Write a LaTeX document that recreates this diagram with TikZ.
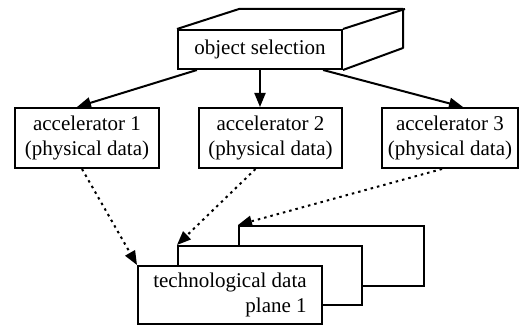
\documentclass[tikz,border=0pt]{standalone}
\usepackage{fontspec}
\setmainfont{Liberation Serif}
\usetikzlibrary{arrows.meta}
\usetikzlibrary{calc}
\begin{document}
\begin{tikzpicture}[x=1pt, y=-1pt]
                \tikzstyle{box}  = [draw, line width=2pt, fill=white, inner sep=0pt, align=center, font=\fontsize{21}{25}\selectfont]
                \tikzstyle{link} = [line width=2pt, -{Triangle[length=14pt, width=11pt]}]
                \tikzstyle{feed} = [line width=2pt, dash pattern=on 2.5pt off 4pt, -{Triangle[length=14pt, width=11pt]}]
                \useasboundingbox (0, 0) rectangle (520, 326);
                %%Selection block
                \node [box, minimum width=164pt, minimum height=39pt](sel) at (260, 49.5) {object selection};
                \draw [line width=2pt, line join=round] (sel.north west) -- ++(62, -20) -- ++(164, 0) -- ++(0, 39) -- (sel.south east);
                \draw [line width=2pt] (sel.north east) -- ++(62, -20);
                %%Accelerators
                \node [box, minimum width=144pt, minimum height=60pt](acc1) at (87, 138) {accelerator 1\\(physical data)};
                \node [box, minimum width=143pt, minimum height=60pt](acc2) at (270.5, 138) {accelerator 2\\(physical data)};
                \node [box, minimum width=136pt, minimum height=60pt](acc3) at (450, 138) {accelerator 3\\(physical data)};
                %%Planes
                \node [box, minimum width=185pt, minimum height=60pt](plane3) at (331.5, 256) {};
                \node [box, minimum width=184pt, minimum height=59pt](plane2) at (270, 275.5) {};
                \node [box, minimum width=184pt, minimum height=58pt, align=right](plane1) at (230, 295) {technological data\\plane 1};
                %%Edges
                \draw [link] ($(sel.south west)!0.12!(sel.south east)$) -- ([xshift=-10pt]acc1.north);
                \draw [link] (sel.south) -- (sel.south |- acc2.north);
                \draw [link] ($(sel.south west)!0.88!(sel.south east)$) -- ([xshift=13pt]acc3.north);
                \draw [feed] ([xshift=-5pt]acc1.south) -- (plane1.north west);
                \draw [feed] ([xshift=-15pt]acc2.south) -- (plane2.north west);
                \draw [feed] ([xshift=-8pt]acc3.south) -- (plane3.north west);
\end{tikzpicture}
\end{document}
